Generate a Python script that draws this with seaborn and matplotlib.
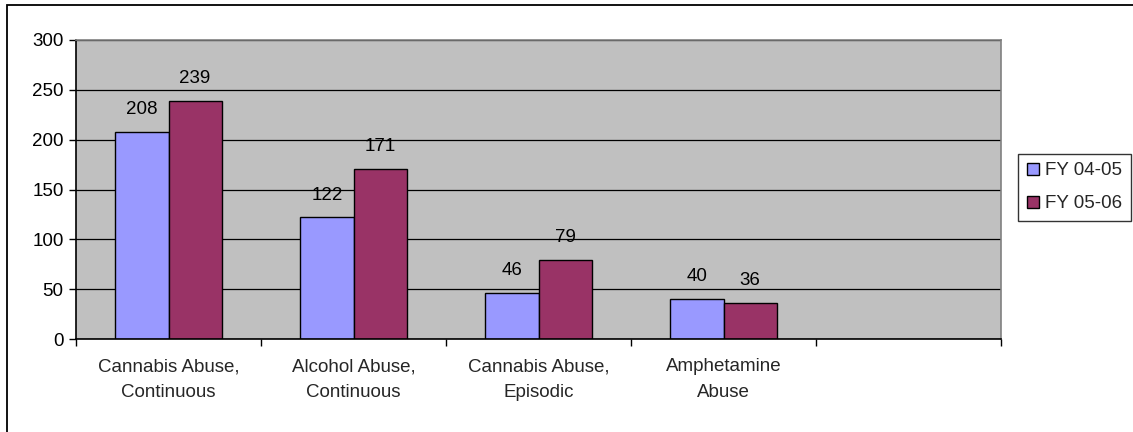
import matplotlib
matplotlib.use("Agg")
import matplotlib.pyplot as plt
import matplotlib.patches as mpatches
import seaborn as sns
import pandas as pd

categories = ["Cannabis Abuse,\nContinuous", "Alcohol Abuse,\nContinuous",
              "Cannabis Abuse,\nEpisodic", "Amphetamine\nAbuse"]
fy_04_05 = [208, 122, 46, 40]
fy_05_06 = [239, 171, 79, 36]
series_names = ["FY 04-05", "FY 05-06"]
y_ticks = [0, 50, 100, 150, 200, 250, 300]

df = pd.DataFrame({
    "category": categories * 2,
    "value": fy_04_05 + fy_05_06,
    "year": [series_names[0]] * 4 + [series_names[1]] * 4,
})

sns.set_theme(style="white")
plt.rcParams["font.family"] = ["Liberation Sans", "DejaVu Sans"]

FS = 13.5
W, H = 1133, 432
fig = plt.figure(figsize=(W / 100, H / 100), dpi=100)
ax = fig.add_axes([76 / W, (H - 339) / H, 925 / W, (339 - 40) / H])

# outer chart frame (left and top edges)
fig.patches.append(mpatches.Rectangle((7 / W, -0.1), 1.2, 0.1 + (H - 5) / H,
                                      transform=fig.transFigure, fill=False,
                                      edgecolor="black", linewidth=1.3))

ax.set_facecolor("#C0C0C0")
ax.set_axisbelow(True)
ax.yaxis.grid(True, color="black", linewidth=0.9)

palette = {"FY 04-05": "#9999FF", "FY 05-06": "#993366"}
sns.barplot(data=df, x="category", y="value", hue="year", order=categories,
            palette=palette, width=0.573, edgecolor="black", linewidth=1.0,
            saturation=1, ax=ax, legend=True)

for cont in ax.containers:
    ax.bar_label(cont, padding=10, fontsize=FS, color="black")

ax.set_xlim(-0.5, 4.5)
ax.set_ylim(0, 300)
ax.set_yticks(y_ticks)
ax.tick_params(axis="y", direction="out", length=5, width=1, pad=4,
               labelsize=FS, left=True, colors="black")

# category boundaries carry the tick marks; labels sit at slot centres
ax.set_xticks([i - 0.5 for i in range(6)])
ax.set_xticklabels([""] * 6)
ax.set_xticks(range(4), minor=True)
ax.set_xticklabels(categories, minor=True, fontsize=FS, linespacing=1.62)
ax.tick_params(axis="x", which="major", direction="out", length=5, width=1,
               bottom=True, colors="black")
ax.tick_params(axis="x", which="minor", length=0, pad=14, labelsize=FS)
ax.set_xlabel("")
ax.set_ylabel("")

for side in ("top", "right"):
    ax.spines[side].set_color("#808080")
    ax.spines[side].set_linewidth(1.2)
for side in ("left", "bottom"):
    ax.spines[side].set_color("black")
    ax.spines[side].set_linewidth(1.2)

handles, labels = ax.get_legend_handles_labels()
ax.legend_.remove()
leg = fig.legend(handles, labels, loc="upper right",
                 bbox_to_anchor=(1131 / W, 1 - 154 / H),
                 bbox_transform=fig.transFigure, frameon=True, fancybox=False,
                 edgecolor="black", fontsize=FS, handlelength=0.65,
                 handleheight=0.65, handletextpad=0.35, borderpad=0.45,
                 labelspacing=0.85, borderaxespad=0)
leg.get_frame().set_linewidth(1.0)

fig.savefig("out.png", dpi=100, facecolor="white")
